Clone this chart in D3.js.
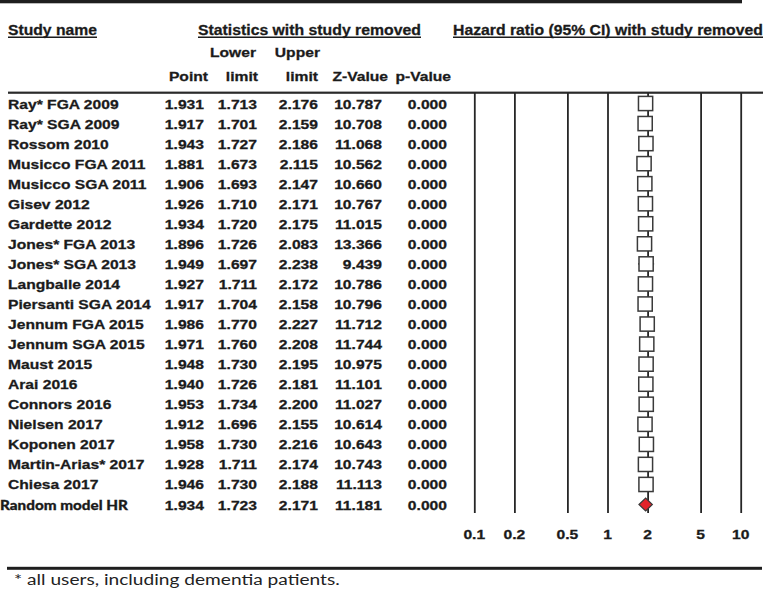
<!DOCTYPE html>
<html><head><meta charset="utf-8">
<script src="https://cdn.jsdelivr.net/npm/d3@7"></script>
<style>body{margin:0;background:#fff}svg{display:block}</style>
</head><body><svg id="c" width="763" height="597"></svg>
<script>
const studies = ["Ray* FGA 2009","Ray* SGA 2009","Rossom 2010","Musicco FGA 2011","Musicco SGA 2011","Gisev 2012","Gardette 2012","Jones* FGA 2013","Jones* SGA 2013","Langballe 2014","Piersanti SGA 2014","Jennum FGA 2015","Jennum SGA 2015","Maust 2015","Arai 2016","Connors 2016","Nielsen 2017","Koponen 2017","Martin-Arias* 2017","Chiesa 2017"];
const points = [1.931,1.917,1.943,1.881,1.906,1.926,1.934,1.896,1.949,1.927,1.917,1.986,1.971,1.948,1.940,1.953,1.912,1.958,1.928,1.946];
const lowers = [1.713,1.701,1.727,1.673,1.693,1.710,1.720,1.726,1.697,1.711,1.704,1.770,1.760,1.730,1.726,1.734,1.696,1.730,1.711,1.730];
const uppers = [2.176,2.159,2.186,2.115,2.147,2.171,2.175,2.083,2.238,2.172,2.158,2.227,2.208,2.195,2.181,2.200,2.155,2.216,2.174,2.188];
const zvals = [10.787,10.708,11.068,10.562,10.660,10.767,11.015,13.366,9.439,10.786,10.796,11.712,11.744,10.975,11.101,11.027,10.614,10.643,10.743,11.113];
const pvals = [0,0,0,0,0,0,0,0,0,0,0,0,0,0,0,0,0,0,0,0];
const summaryLabel = "Random model HR";
const summary = {point:1.934, lower:1.723, upper:2.171, z:11.181, p:0.000};
const tickValues = [0.1,0.2,0.5,1,2,5,10];
const tickLabels = ["0.1","0.2","0.5","1","2","5","10"];

const svg = d3.select("#c");
const ink = "#1b1b1b";
const K = 1.15; // horizontal stretch of the original typesetting

function txt(x, y, s, o={}) {
  const g = svg.append("g");
  const t = g.append("text").attr("x", 0).attr("y", 0).text(s)
    .attr("font-family", o.family || "'Liberation Sans', Arial, sans-serif")
    .attr("font-size", o.size || 13.6)
    .attr("font-weight", o.weight || "bold")
    .attr("fill", o.fill || ink)
    .attr("stroke", o.stroke === 0 ? "none" : (o.fill || ink))
    .attr("stroke-width", o.stroke === 0 ? 0 : (o.stroke || 0.3));
  const w0 = t.node().getComputedTextLength();
  const w = o.width || w0 * (o.k || K);
  const k = w / w0;
  let x0 = x;
  if (o.anchor === "end") x0 = x - w;
  else if (o.anchor === "middle") x0 = x - w / 2;
  g.attr("transform", `translate(${x0},${y}) scale(${k},1)`);
  if (o.underline) {
    svg.append("line").attr("x1", x0).attr("x2", x0 + w)
      .attr("y1", y + 2.3).attr("y2", y + 2.3)
      .attr("stroke", ink).attr("stroke-width", 1.6);
  }
  return t;
}

// rules
svg.append("rect").attr("x", 0).attr("y", 0).attr("width", 742).attr("height", 3.3).attr("fill", "#1e1e1e");
svg.append("rect").attr("x", 8).attr("y", 91.6).attr("width", 755).attr("height", 2.2).attr("fill", "#2a2a2a");
svg.append("rect").attr("x", 7).attr("y", 566.8).attr("width", 755).attr("height", 3).attr("fill", "#1e1e1e");

// headers
txt(8, 35, "Study name", {size: 15.5, width: 89, underline: true});
txt(198, 35, "Statistics with study removed", {size: 15.5, width: 223, underline: true});
txt(453, 35, "Hazard ratio (95% CI) with study removed", {size: 15.5, width: 310, underline: true});
txt(256, 57, "Lower", {anchor: "end"});
txt(320, 57, "Upper", {anchor: "end"});
txt(208, 81, "Point", {anchor: "end"});
txt(258, 81, "limit", {anchor: "end"});
txt(318, 81, "limit", {anchor: "end"});
txt(388, 81, "Z-Value", {anchor: "end"});
txt(451, 81, "p-Value", {anchor: "end"});

// scales
const rows = studies.concat([summaryLabel]);
const y = d3.scalePoint().domain(rows).range([103.5, 504.5]);
const x = d3.scaleLog().domain([0.1, 10]).range([474.3, 740.7]);

// table values
const colRight = [204, 257, 318, 382, 447];
const fmt3 = d3.format(".3f");
studies.forEach((s, i) => {
  const yy = y(s) + 5;
  txt(8, yy, s);
  [points[i], lowers[i], uppers[i], zvals[i], pvals[i]].forEach((v, j) => txt(colRight[j], yy, fmt3(v), {anchor: "end"}));
});
{
  const yy = y(summaryLabel) + 5;
  txt(0, yy, summaryLabel, {family: "Lato, 'Open Sans', sans-serif", size: 14, weight: 900, width: 128});
  [summary.point, summary.lower, summary.upper, summary.z, summary.p].forEach((v, j) => txt(colRight[j], yy, fmt3(v), {anchor: "end"}));
}

// gridlines (axis)
const yTop = 93, yBot = 513;
const axis = d3.axisBottom(x).tickValues(tickValues).tickFormat((d, i) => tickLabels[i]).tickSize(-(yBot - yTop)).tickSizeOuter(0);
const ag = svg.append("g").attr("transform", `translate(0,${yBot})`).call(axis);
ag.select(".domain").remove();
ag.selectAll(".tick line").attr("stroke", "#262626").attr("stroke-width", 1.8);
ag.selectAll(".tick text").remove();
tickValues.forEach((v, i) => txt(x(v), 538.5, tickLabels[i], {anchor: "middle"}));

// study markers
const g = svg.append("g");
studies.forEach((s, i) => {
  g.append("line").attr("x1", x(lowers[i])).attr("x2", x(uppers[i])).attr("y1", y(s)).attr("y2", y(s))
    .attr("stroke", "#333").attr("stroke-width", 1.5);
});
const bs = 14.2;
g.selectAll("rect.box").data(studies).join("rect").attr("class", "box")
  .attr("x", (d, i) => x(points[i]) - bs / 2)
  .attr("y", d => y(d) - bs / 2)
  .attr("width", bs).attr("height", bs)
  .attr("fill", "#fff").attr("stroke", "#3a3a3a").attr("stroke-width", 1.5);

// summary diamond
const yc = y(summaryLabel);
g.append("path")
  .attr("d", `M${x(summary.lower)},${yc} L${x(summary.point)},${yc - 6.5} L${x(summary.upper)},${yc} L${x(summary.point)},${yc + 6.5} Z`)
  .attr("fill", "#e3242b").attr("stroke", "#3a3a3a").attr("stroke-width", 1.2);

// footnote
txt(14, 585, "* all users, including dementia patients.", {family: "Lato, 'Open Sans', sans-serif", size: 16, weight: "normal", width: 326, fill: "#222", stroke: 0});
</script>
</body></html>
